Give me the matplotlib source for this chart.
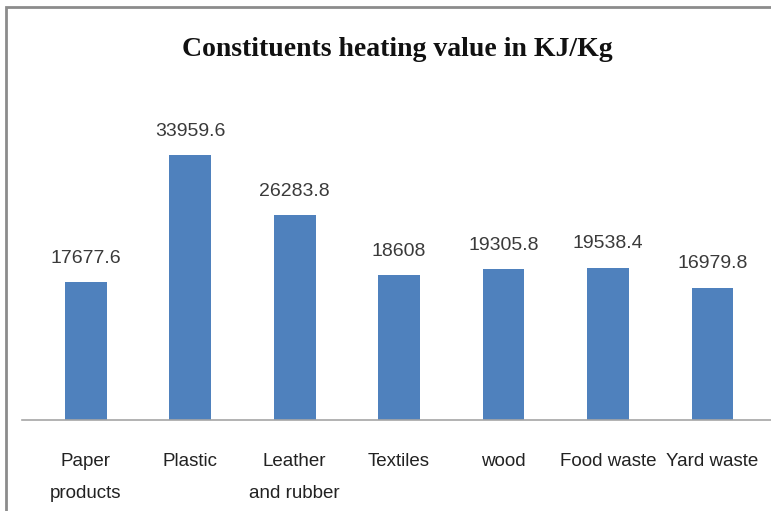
import matplotlib.pyplot as plt
from matplotlib.patches import Rectangle

categories = ['Paper\nproducts', 'Plastic', 'Leather\nand rubber', 'Textiles',
              'wood', 'Food waste', 'Yard waste']
values = [17677.6, 33959.6, 26283.8, 18608, 19305.8, 19538.4, 16979.8]
value_labels = ['17677.6', '33959.6', '26283.8', '18608', '19305.8', '19538.4', '16979.8']

LABEL_FONT = ['Liberation Sans', 'DejaVu Sans']

fig = plt.figure(figsize=(7.71, 5.11), dpi=100)
fig.patches.append(Rectangle((6 / 771, -0.05), 1.2, 1 - 7 / 511 + 0.05,
                             transform=fig.transFigure, fill=False,
                             edgecolor='#8c8c8c', linewidth=2))

ax = fig.add_axes([22 / 771, 1 - 420 / 511, 1 - 22 / 771, 312 / 511])
x = range(len(values))
ax.bar(x, values, width=0.4, color='#4F81BD')

for xi, v, lab in zip(x, values, value_labels):
    ax.annotate(lab, (xi, v), xytext=(0, 11), textcoords='offset points',
                ha='center', va='bottom', fontsize=14, family=LABEL_FONT,
                color='#3a3a3a')

ax.set_xlim(-0.61, 6.56)
ax.set_ylim(0, 40000)
ax.set_xticks(list(x))
ax.set_xticklabels(categories, fontsize=13.5, family=LABEL_FONT,
                   color='#222222', linespacing=2.15)
ax.tick_params(axis='x', length=0, pad=24)
ax.set_yticks([])
for side in ['top', 'right', 'left']:
    ax.spines[side].set_visible(False)
ax.spines['bottom'].set_color('#a6a6a6')
ax.spines['bottom'].set_linewidth(1.2)

fig.text(397 / 771, 1 - 49 / 511, 'Constituents heating value in KJ/Kg',
         ha='center', va='center', fontsize=20, fontweight='bold',
         family='Liberation Serif', color='#111111')

fig.savefig('out.png', dpi=100)
